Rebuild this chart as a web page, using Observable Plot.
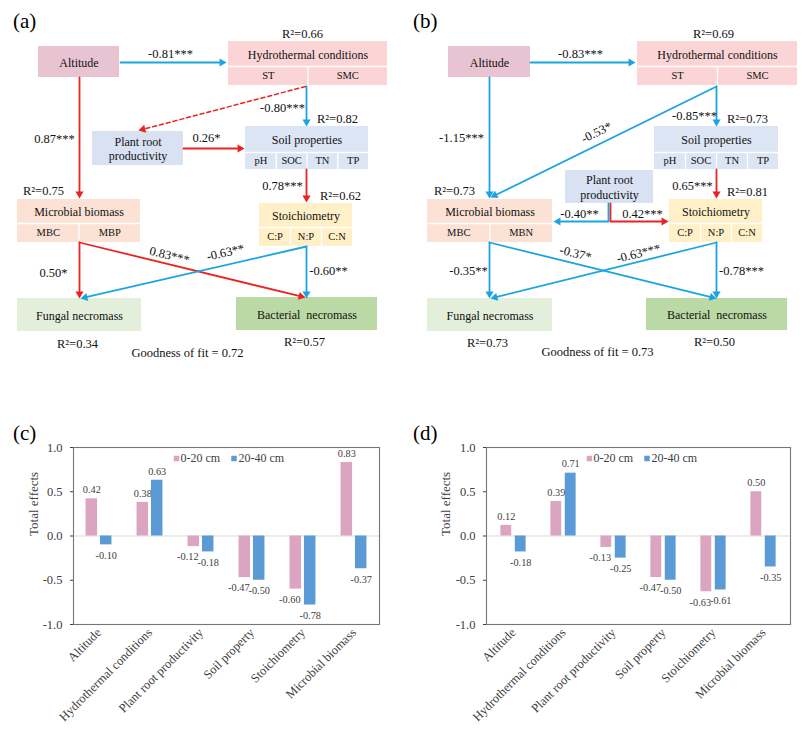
<!DOCTYPE html>
<html><head><meta charset="utf-8">
<script src="https://cdn.jsdelivr.net/npm/d3@7"></script>
<script src="https://cdn.jsdelivr.net/npm/@observablehq/plot@0.6"></script>
<style>
body{margin:0;background:#fff;}
#root{position:relative;width:803px;height:744px;overflow:hidden;background:#fff;font-family:"Liberation Serif",serif}
.panel{position:absolute}
.tag{position:absolute;font-size:21px;line-height:21px;font-family:"Liberation Serif",serif;color:#000}
</style></head><body><div id="root"></div>
<script>
// ================= DATA =================
const nodeIds   = ["alt","hyd","prp","soil","mb","sto","fn","bn"];
const nodeNames = ["Altitude","Hydrothermal conditions","Plant root\nproductivity","Soil properties","Microbial biomass","Stoichiometry","Fungal necromass","Bacterial  necromass"];
const subLabelsA = {hyd:["ST","SMC"], soil:["pH","SOC","TN","TP"], mb:["MBC","MBP"], sto:["C:P","N:P","C:N"]};
const subLabelsB = {hyd:["ST","SMC"], soil:["pH","SOC","TN","TP"], mb:["MBC","MBN"], sto:["C:P","N:P","C:N"]};

// panel (a) paths (null coefficient = non-significant, dashed)
const fromA = ["alt","alt","hyd","hyd","prp","soil","mb","mb","sto","sto"];
const toA   = ["hyd","mb","prp","soil","soil","sto","fn","bn","fn","bn"];
const coefA = [-0.81, 0.87, null, -0.80, 0.26, 0.78, 0.50, 0.83, -0.63, -0.60];
const sigA  = ["***","***","","***","*","***","*","***","**","**"];
const r2A   = {hyd:0.66, soil:0.82, mb:0.75, sto:0.62, fn:0.34, bn:0.57};
const gofA  = 0.72;

// panel (b) paths
const fromB = ["alt","alt","hyd","hyd","soil","prp","prp","mb","mb","sto","sto"];
const toB   = ["hyd","mb","mb","soil","sto","mb","sto","fn","bn","fn","bn"];
const coefB = [-0.83, -1.15, -0.53, -0.85, 0.65, -0.40, 0.42, -0.35, -0.37, -0.63, -0.78];
const sigB  = ["***","***","*","***","***","**","***","**","*","***","***"];
const r2B   = {hyd:0.69, soil:0.73, mb:0.73, sto:0.81, fn:0.73, bn:0.50};
const gofB  = 0.73;

// total effects (c), (d)
const categories = ["Altitude","Hydrothermal conditions","Plant root productivity","Soil property","Stoichiometry","Microbial biomass"];
const depths = ["0-20 cm","20-40 cm"];
const effC020 = [0.42, 0.38, -0.12, -0.47, -0.60, 0.83];
const effC2040 = [-0.10, 0.63, -0.18, -0.50, -0.78, -0.37];
const effD020 = [0.12, 0.39, -0.13, -0.47, -0.63, 0.50];
const effD2040 = [-0.18, 0.71, -0.25, -0.50, -0.61, -0.35];

// ================= LAYOUT / STYLE =================
const boxFill = {alt:"#e8c3d1", hyd:"#fbd5d6", prp:"#d9e2f2", soil:"#dce5f3", mb:"#fbe2d5", sto:"#fff0c8", fn:"#e3efdb", bn:"#bbd9a4"};
const RED = "#ea2320", BLUE = "#1ca4e2";
const PINK = "#dba4c0", BARBLUE = "#5b9bd5";
const FONT = "Liberation Serif";

const layoutA = {
  boxes:{alt:[38,46,119,77], hyd:[228,41,387,85], prp:[92,131,183,165], soil:[245,126,368,169],
         mb:[17,199,140,242], sto:[259,203,352,246], fn:[17,298,141,331], bn:[236,297,377,330]},
  split:{hyd:66, soil:152, mb:223, sto:227},
  edges:[
    {pts:[[120,62],[226,62]], lab:[170,53,0]},
    {pts:[[79,77],[79,198]], lab:[54,138,0]},
    {pts:[[305,86],[138,130]], lab:null},
    {pts:[[306,86],[306,126]], lab:[282,107,0]},
    {pts:[[183,148],[244,148]], lab:[206,137,0]},
    {pts:[[306,169],[306,202]], lab:[282,185,0]},
    {pts:[[79,242],[79,298]], lab:[53,272,0]},
    {pts:[[79,242],[305,297]], lab:[169,255,14]},
    {pts:[[306,246],[80,298]], lab:[225,252,-13]},
    {pts:[[306,246],[306,298]], lab:[328,270,0]}
  ],
  r2:{hyd:[302,33], soil:[337,118], mb:[43,190], sto:[340,195], fn:[77,343], bn:[304,341]},
  gof:[187,352]
};
const layoutB = {
  boxes:{alt:[48,46,130,77], hyd:[237,41,397,85], prp:[165,170,253,203], soil:[254,126,378,169],
         mb:[27,199,152,242], sto:[269,199,362,242], fn:[27,298,152,331], bn:[246,298,387,330]},
  split:{hyd:66, soil:152, mb:223, sto:223},
  edges:[
    {pts:[[130,62],[235,62]], lab:[180,53,0]},
    {pts:[[89,77],[89,198]], lab:[61,137,0]},
    {pts:[[316,86],[90,197]], lab:[196,132,-26]},
    {pts:[[316,86],[316,126]], lab:[294,115,0]},
    {pts:[[316,169],[316,198]], lab:[292,185,0]},
    {pts:[[208,203],[208,221],[153,221]], lab:[179,213,0]},
    {pts:[[210,203],[210,221],[268,221]], lab:[242,213,0]},
    {pts:[[89,242],[89,298]], lab:[68,270,0]},
    {pts:[[89,242],[316,298]], lab:[175,253,14]},
    {pts:[[316,242],[90,298]], lab:[238,253,-14]},
    {pts:[[316,242],[316,298]], lab:[341,270,0]}
  ],
  r2:{hyd:[313,33], soil:[347,118], mb:[54,190], sto:[347,191], fn:[87,342], bn:[314,341]},
  gof:[197,351]
};
// in-plot legend offsets from the frame's top-left corner
const legendSwatchDx = [103, 160.5], legendTextDx = [107, 165], legendDy = 11;

const root = document.getElementById("root");
function place(el, left, top){ el.classList.add("panel"); el.style.left = left+"px"; el.style.top = top+"px"; root.appendChild(el); return el; }
function tag(text, left, top){ const d = document.createElement("div"); d.className="tag"; d.textContent=text; d.style.left=left+"px"; d.style.top=top+"px"; root.appendChild(d); }

// ================= PATH DIAGRAM =================
function diagram(layout, from, to, coef, sig, subs, r2, gof, width){
  const H = 365;
  const boxes = nodeIds.map((id,i)=>({id, label:nodeNames[i], fill:boxFill[id], b:layout.boxes[id]}));
  const titles = boxes.map(d=>{
    const s = layout.split[d.id];
    return {label:d.label, x:(d.b[0]+d.b[2])/2, y: s ? (d.b[1]+s)/2 : (d.b[1]+d.b[3])/2};
  });
  const cells = [], dividers = [];
  for (const id of Object.keys(subs)){
    const b = layout.boxes[id], s = layout.split[id], labs = subs[id], n = labs.length;
    dividers.push({x1:b[0], x2:b[2], y1:s, y2:s});
    labs.forEach((t,k)=>{
      const xa = b[0]+(b[2]-b[0])*k/n, xb = b[0]+(b[2]-b[0])*(k+1)/n;
      cells.push({label:t, x:(xa+xb)/2, y:(s+b[3])/2});
      if (k>0) dividers.push({x1:xa, x2:xa, y1:s, y2:b[3]});
    });
  }
  const segs = [], heads = [], labels = [];
  layout.edges.forEach((e,i)=>{
    const c = coef[i];
    const color = (c === null || c > 0) ? RED : BLUE;
    const dashed = c === null;
    const pts = e.pts.map(p=>p.slice());
    const a = pts[pts.length-2], b = pts[pts.length-1];
    const dx = b[0]-a[0], dy = b[1]-a[1], L = Math.hypot(dx,dy), ux = dx/L, uy = dy/L;
    const back = 4.6;
    heads.push({x:b[0]-ux*back, y:b[1]-uy*back, rotate:Math.atan2(dy,dx)*180/Math.PI+90, color});
    pts[pts.length-1] = [b[0]-ux*back, b[1]-uy*back];
    pts.forEach(p=>segs.push({edge:i, x:p[0], y:p[1], color, dashed}));
    if (e.lab && c !== null) labels.push({text:c.toFixed(2)+sig[i], x:e.lab[0], y:e.lab[1], rotate:e.lab[2]});
  });
  const r2Labels = Object.keys(r2).map(id=>({text:"R²="+r2[id].toFixed(2), x:layout.r2[id][0], y:layout.r2[id][1]}));
  return Plot.plot({
    width, height:H, margin:0,
    x:{domain:[0,width], range:[0,width], axis:null},
    y:{domain:[0,H], range:[0,H], axis:null},
    color:{type:"identity"},
    style:{fontFamily:FONT, background:"transparent", color:"#000"},
    marks:[
      Plot.rect(boxes, {x1:d=>d.b[0], x2:d=>d.b[2], y1:d=>d.b[1], y2:d=>d.b[3], fill:"fill"}),
      Plot.link(dividers, {x1:"x1", x2:"x2", y1:"y1", y2:"y2", stroke:"#fff", strokeWidth:1.3}),
      Plot.text(titles, {x:"x", y:"y", text:"label", fontSize:12, fill:"#111", lineHeight:1.2, fontFamily:FONT}),
      Plot.text(cells, {x:"x", y:"y", text:"label", fontSize:10.5, fill:"#111", fontFamily:FONT}),
      Plot.line(segs.filter(d=>!d.dashed), {x:"x", y:"y", z:"edge", stroke:"color", strokeWidth:1.8}),
      Plot.line(segs.filter(d=>d.dashed), {x:"x", y:"y", z:"edge", stroke:"color", strokeWidth:1.5, strokeDasharray:"4,3"}),
      Plot.dot(heads, {x:"x", y:"y", rotate:"rotate", fill:"color", symbol:"triangle", r:3, stroke:null}),
      Plot.text(labels, {x:"x", y:"y", text:"text", rotate:"rotate", fontSize:12.5, fill:"#111", fontFamily:FONT}),
      Plot.text(r2Labels, {x:"x", y:"y", text:"text", fontSize:12.5, fill:"#111", fontFamily:FONT}),
      Plot.text([`Goodness of fit = ${gof.toFixed(2)}`], {x:layout.gof[0], y:layout.gof[1], fontSize:12.5, fill:"#111", fontFamily:FONT})
    ]
  });
}

// ================= BAR CHART =================
function bars(v1, v2, width, ml, mr, labelDx){
  const rows = categories.flatMap((c,i)=>[
    {category:c, depth:depths[0], value:v1[i]},
    {category:c, depth:depths[1], value:v2[i]}
  ]);
  const H = 339, mt = 42, mb = 120;
  const bw = (width-ml-mr)/categories.length;
  const barW = 11.5, off = 7.2;
  const inset = (bw-barW)/2;
  const shift = {[depths[0]]:-off, [depths[1]]:off};
  const negNudge = {[depths[0]]:-6, [depths[1]]:0};
  const marks = [Plot.ruleY([0], {stroke:"#d9d9d9", strokeWidth:1})];
  for (const dp of depths){
    const r = rows.filter(d=>d.depth===dp);
    marks.push(
      Plot.barY(r, {x:"category", y:"value", fill:"depth", dx:shift[dp], insetLeft:inset, insetRight:inset}),
      Plot.text(r.filter(d=>d.value>=0), {x:"category", y:"value", text:d=>d.value.toFixed(2), dx:shift[dp], dy:-9, fontSize:10.3, fill:"#404040", fontFamily:FONT}),
      Plot.text(r.filter(d=>d.value<0), {x:"category", y:"value", text:d=>d.value.toFixed(2), dx:shift[dp]+negNudge[dp], dy:10.5, fontSize:10.3, fill:"#404040", fontFamily:FONT})
    );
  }
  // legend drawn inside the frame, through the color scale
  depths.forEach((dp,k)=>{
    marks.push(
      Plot.dot([dp], {fill:d=>d, symbol:"square", r:3.1, frameAnchor:"top-left", dx:legendSwatchDx[k], dy:legendDy}),
      Plot.text([dp], {text:d=>d, frameAnchor:"top-left", textAnchor:"start", lineAnchor:"middle", dx:legendTextDx[k], dy:legendDy, fontSize:12, fill:"#404040", fontFamily:FONT})
    );
  });
  marks.push(
    Plot.frame({stroke:"#767676", strokeWidth:1.1}),
    Plot.axisY({ticks:[-1,-0.5,0,0.5,1], tickFormat:d=>d.toFixed(1), tickSize:3, tickPadding:8, fontSize:12.5, color:"#404040", label:null, fontFamily:FONT}),
    Plot.axisX({tickRotate:-45, tickSize:0, tickPadding:6, fontSize:12.5, color:"#404040", label:null, fontFamily:FONT}),
    Plot.text(["Total effects"], {frameAnchor:"left", rotate:-90, dx:labelDx, fontSize:13, fill:"#404040", fontFamily:FONT})
  );
  return Plot.plot({
    width, height:H, marginLeft:ml, marginRight:mr, marginTop:mt, marginBottom:mb,
    x:{type:"band", domain:categories, padding:0},
    y:{domain:[-1,1]},
    color:{domain:depths, range:[PINK, BARBLUE]},
    style:{fontFamily:FONT, background:"transparent", color:"#404040"},
    marks
  });
}

// ================= ASSEMBLE =================
place(diagram(layoutA, fromA, toA, coefA, sigA, subLabelsA, r2A, gofA, 400), 0, 0);
place(diagram(layoutB, fromB, toB, coefB, sigB, subLabelsB, r2B, gofB, 403), 400, 0);
place(bars(effC020, effC2040, 400, 73, 21, -40), 0, 405);
place(bars(effD020, effD2040, 403, 86, 13, -41), 400, 405);

tag("(a)", 13, 11);
tag("(b)", 413, 11);
tag("(c)", 13, 423);
tag("(d)", 413, 423);
</script>
</body></html>
